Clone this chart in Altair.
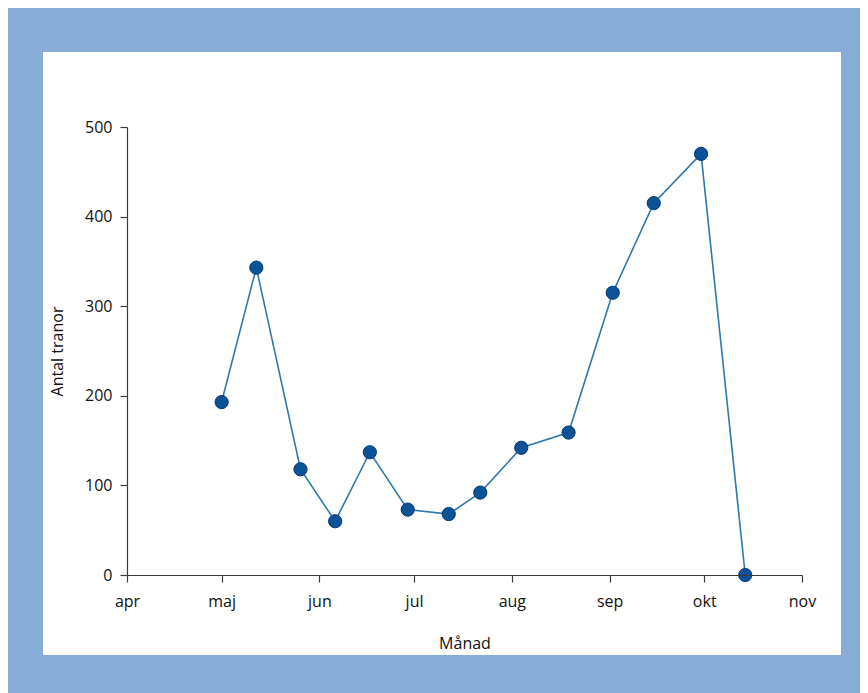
import altair as alt
import pandas as pd

dates = ["2020-05-01", "2020-05-12", "2020-05-26", "2020-06-06", "2020-06-17",
         "2020-06-29", "2020-07-12", "2020-07-22", "2020-08-04", "2020-08-19",
         "2020-09-02", "2020-09-15", "2020-09-30", "2020-10-14"]
counts = [193, 343, 118, 60, 137, 73, 68, 92, 142, 159, 315, 415, 470, 0]
month_names = ["jan", "feb", "mar", "apr", "maj", "jun", "jul", "aug", "sep", "okt", "nov", "dec"]
tick_months = [4, 5, 6, 7, 8, 9, 10, 11]

df = pd.DataFrame({"datum": dates, "antal": counts})

FONT = "Open Sans"
names_js = "[" + ",".join(f"'{m}'" for m in month_names) + "]"

x_enc = alt.X(
    "datum:T",
    scale=alt.Scale(type="utc",
                    domain=[alt.DateTime(year=2020, month=4, date=1, utc=True),
                            alt.DateTime(year=2020, month=11, date=1, utc=True)]),
    axis=alt.Axis(
        title="Månad",
        values=[alt.DateTime(year=2020, month=m, date=1, utc=True) for m in tick_months],
        labelExpr=f"{names_js}[utcmonth(datum.value)]",
        tickSize=7, labelPadding=11, labelFlush=False,
        titleX=337.5, titleY=60, titleBaseline="top", zindex=1,
    ),
)
y_enc = alt.Y(
    "antal:Q",
    scale=alt.Scale(domain=[0, 500], nice=False),
    axis=alt.Axis(title="Antal tranor", values=[0, 100, 200, 300, 400, 500],
                  tickSize=7, labelPadding=8,
                  titleX=-62, titleY=224, titleBaseline="bottom", zindex=1),
)

panel = alt.Chart(df).mark_rect(fill="white").encode(
    x=alt.value(-84), x2=alt.value(714), y=alt.value(-75), y2=alt.value(528)
)

line = alt.Chart(df).mark_line(color="#2e79ab", strokeWidth=1.6).encode(x=x_enc, y=y_enc)
points = alt.Chart(df).mark_circle(
    size=175, fill="#0b5296", stroke="#06377a", strokeWidth=1, opacity=1
).encode(x="datum:T", y="antal:Q")

chart = alt.layer(panel, line, points).properties(
    width=675, height=448,
    autosize=alt.AutoSizeParams(type="none"),
    padding={"left": 119, "top": 119, "right": 58, "bottom": 118},
    background="#87acd8",
).configure_view(stroke=None).configure_axis(
    grid=False,
    domainColor="#3a3a3a", tickColor="#3a3a3a", domainWidth=1.2, tickWidth=1.2,
    labelFont=FONT, titleFont=FONT, labelFontSize=16, titleFontSize=16,
    labelColor="#111111", titleColor="#111111", titleFontWeight="normal",
)

chart.save("out.html", embed_options={"renderer": "svg", "actions": False})
